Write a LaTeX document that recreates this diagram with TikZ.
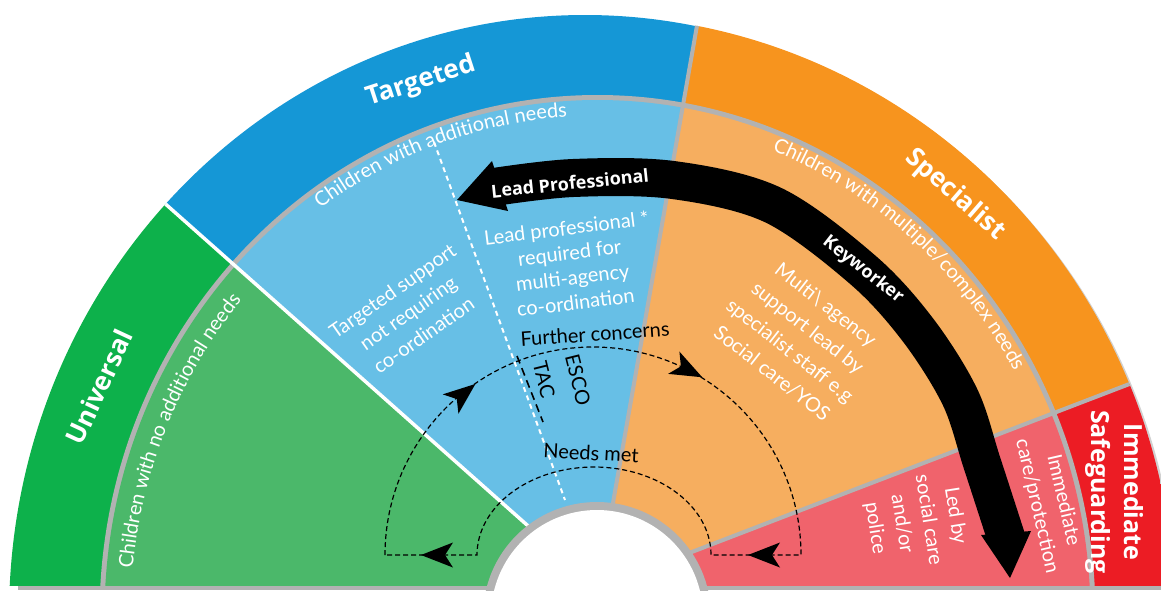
\documentclass[tikz,border=0pt]{standalone}
\usepackage{fontspec}
\setmainfont{Lato}
\newfontfamily\headfam{Open Sans}
\usetikzlibrary{decorations.text}
\definecolor{ugreen}{HTML}{0DB14B}
\definecolor{lgreen}{HTML}{4BB86A}
\definecolor{tblue}{HTML}{1597D6}
\definecolor{lblue}{HTML}{67BFE6}
\definecolor{sorange}{HTML}{F7941E}
\definecolor{lorange}{HTML}{F6AE5F}
\definecolor{ired}{HTML}{EC1C24}
\definecolor{lred}{HTML}{F0636C}
\definecolor{rimgray}{HTML}{B2B2B2}
\newcommand\headtxt{\headfam\bfseries\fontsize{26}{32}\selectfont}
\newcommand\armtxt{\headfam\bfseries\fontsize{18}{21}\selectfont}
\newcommand\bodytxt{\fontsize{20}{24}\selectfont}
\tikzset{
  headlbl/.style={text=white, font=\headtxt, inner sep=0pt, align=center},
  armlbl/.style={text=white, font=\armtxt, inner sep=0pt},
  bodylbl/.style={text=white, inner sep=0pt, align=center},
  darklbl/.style={text=black, font=\bodytxt, inner sep=0pt},
  loopline/.style={black, line width=1.2, dash pattern=on 5 off 3},
  dhead/.pic={\fill[black] (16,0) -- (-16,12.5) -- (-8,0) -- (-16,-12.5) -- cycle;},
  arcText/.style={decorate, decoration={text along path, text={|\bodytxt|#1}, text align=center, text color=white}}
}
\begin{document}
\begin{tikzpicture}[x=1pt,y=1pt]
\useasboundingbox (0,0) rectangle (1161,-590);
\coordinate (O) at (598,-588);
\coordinate (CA) at (585,-616);
\coordinate (CI) at (597.5,-616);
\coordinate (CH) at (597,-616);
\begin{scope}
\clip (0,0) rectangle (1161,-590);
\fill[rimgray] (18,-585) rectangle (1161,-590);
\begin{scope}
 \clip (0,0) rectangle (1161,-585);
 % soft rim on the right
 \begin{scope}
  \clip (700,0) rectangle (1161,-585);
  \fill[rimgray!60] (588,-619) ellipse [x radius=590, y radius=601];
 \end{scope}
 % outer bands
 \begin{scope}
  \clip (CA) ellipse [x radius=576, y radius=601];
  \fill[ugreen] (O) -- (-276,188) -- (-400,188) -- (-400,-800) -- (598,-800) -- cycle;
  \fill[tblue] (O) -- (-276,188) -- (-276,321) -- (758,321) -- cycle;
 \end{scope}
 \begin{scope}
  \clip (CA) ellipse [x radius=590, y radius=601];
  \fill[sorange] (O) -- (758,321) -- (1442,321) -- (1442,-264) -- cycle;
  \fill[ired] (O) -- (1442,-264) -- (1442,-800) -- (598,-800) -- cycle;
 \end{scope}
 % grey ring between bands and inner sectors
 \fill[rimgray] (CI) ellipse [x radius=498, y radius=521];
 % inner sectors
 \begin{scope}
  \clip (CI) ellipse [x radius=493, y radius=516];
  \fill[lgreen] (O) -- (-276,188) -- (-400,188) -- (-400,-800) -- (598,-800) -- cycle;
  \fill[lblue] (O) -- (-276,188) -- (-276,321) -- (758,321) -- cycle;
  \fill[lorange] (O) -- (758,321) -- (1442,321) -- (1442,-264) -- cycle;
  \fill[lred] (O) -- (1442,-264) -- (1442,-800) -- (598,-800) -- cycle;
 \end{scope}
 % separators
 \begin{scope}
  \clip (CA) ellipse [x radius=590, y radius=601];
  \draw[rimgray, line width=4] (O) -- (758,321);
  \draw[rimgray, line width=4] (O) -- (1442,-264);
 \end{scope}
 \begin{scope}
  \clip (CA) ellipse [x radius=576, y radius=601];
  \draw[white, line width=3.5] (O) -- (-276,188);
 \end{scope}
\end{scope}
% central hole
\fill[rimgray] (CH) circle [radius=114];
\fill[white] (CH) circle [radius=106];
\end{scope}

% white dashed divider in the targeted sector
\draw[white, line width=2, dash pattern=on 5 off 4] (434,-142) -- (565,-500);

% dashed cycle
\draw[loopline] (385,-555) arc[start angle=180, end angle=0, radius=208]
  -- (711,-555) arc[start angle=0, end angle=180, x radius=117, y radius=88] -- cycle;
\path (463,-394) pic[rotate=39] {dhead};
\path (688,-370) pic[rotate=-27] {dhead};
\path (764,-555) pic[rotate=180] {dhead};
\path (437,-555) pic[rotate=180] {dhead};
\draw[black, line width=1.6, dash pattern=on 8 off 5] (517,-356) -- (543,-422);

% black double arrow
\draw[black, line width=38] plot[smooth, tension=0.55] coordinates {(494,-187) (573,-178) (673,-180) (773,-205) (863,-270) (918,-330) (960,-397) (982,-463) (1007,-540)};
\fill[black] (457,-200) -- (492,-161) -- (508,-211) -- cycle;
\fill[black] (1010,-578) -- (981,-535) -- (1031,-531) -- cycle;

% band titles
\node[headlbl, rotate=18] (tTargeted) at (421,-82) {Targeted};
\node[headlbl, rotate=65] (tUniversal) at (99,-387) {Universal};
\node[headlbl, rotate=-41] (tSpecialist) at (955,-195) {Specialist};
\node[headlbl, rotate=-90, font={\headfam\bfseries\fontsize{25}{33}\selectfont}] (tImm) at (1114,-492) {Immediate\\Safeguarding};

% arrow labels
\node[armlbl, rotate=6] (tLP) at (570,-183) {Lead Professional};
\node[armlbl, rotate=-38] (tKW) at (863,-270) {Keyworker};

% curved sector captions
\path[arcText={Children with additional needs}] ([shift={(597.5,-616)}]130:478 and 500) arc[start angle=130, end angle=89, x radius=478, y radius=500];
\path[arcText={Children with no additional needs}] ([shift={(597.5,-616)}]180:467 and 488) arc[start angle=180, end angle=134, x radius=467, y radius=488];
\path[arcText={Children with multiple/complex needs}] ([shift={(597.5,-616)}]72:478 and 500) arc[start angle=72, end angle=26, x radius=478, y radius=500];

% sector texts
\node[bodylbl, rotate=35, font={\fontsize{20}{27}\selectfont}] (tTS) at (408,-313) {Targeted support\\not requiring\\co-ordination};
\node[bodylbl, rotate=7, font={\fontsize{20}{25}\selectfont}] (tLPR) at (571,-265) {Lead professional *\\required for\\multi-agency\\co-ordination};
\node[bodylbl, rotate=-38, font={\fontsize{20}{29}\selectfont}] (tMA) at (799,-339) {Multi\textbackslash{} agency\\support lead by\\specialist staff e.g\\Social care/YOS};
\node[bodylbl, rotate=-77, font={\fontsize{20}{27}\selectfont}] (tIC) at (1050,-503) {Immediate\\care/protection};
\node[bodylbl, rotate=-81, font={\fontsize{20}{27}\selectfont}] (tLB) at (915,-522) {Led by\\social care\\and/or\\police};

% cycle labels
\node[darklbl, rotate=4] (tFC) at (595,-334) {Further concerns};
\node[darklbl, rotate=-3] (tNM) at (591,-453) {Needs met};
\node[darklbl, rotate=-76] (tTAC) at (544,-380) {TAC};
\node[darklbl, rotate=-76] (tESCO) at (578,-380) {ESCO};
\end{tikzpicture}
\end{document}
